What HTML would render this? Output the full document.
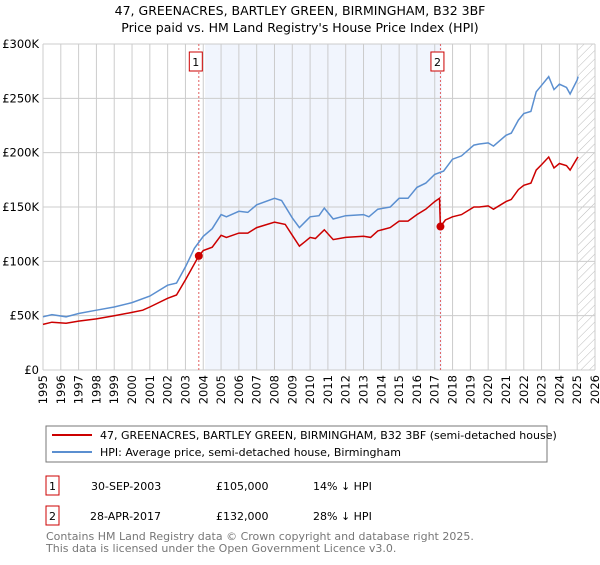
<!DOCTYPE html>
<html><head><meta charset="utf-8"><style>
body{margin:0;background:#fff;font-family:"Liberation Sans","DejaVu Sans",sans-serif;}
svg text{font-family:"DejaVu Sans","Liberation Sans",sans-serif;}
</style></head><body>
<svg id="chart" width="600" height="560" xmlns="http://www.w3.org/2000/svg">
<defs><pattern id="hatch" width="6" height="6" patternUnits="userSpaceOnUse" patternTransform="rotate(45)"><line x1="0" y1="0" x2="0" y2="6" stroke="#bbb" stroke-width="1"/></pattern></defs>
<text x="300" y="15" text-anchor="middle" font-size="12.5" fill="#000">47, GREENACRES, BARTLEY GREEN, BIRMINGHAM, B32 3BF</text>
<text x="300" y="32" text-anchor="middle" font-size="12.5" fill="#000">Price paid vs. HM Land Registry's House Price Index (HPI)</text>
<g id="grid"></g>
<g id="marks"></g>
<rect x="46" y="426" width="501" height="36" fill="#fff" stroke="#777"/>
<line x1="52" y1="435" x2="92" y2="435" stroke="#cc0000" stroke-width="2"/>
<text x="100" y="439" font-size="11">47, GREENACRES, BARTLEY GREEN, BIRMINGHAM, B32 3BF (semi-detached house)</text>
<line x1="52" y1="452" x2="92" y2="452" stroke="#5b8fd0" stroke-width="2"/>
<text x="100" y="456" font-size="11">HPI: Average price, semi-detached house, Birmingham</text>
<g>
<rect x="46" y="476" width="13" height="19" fill="#fff" stroke="#cc0000"/>
<text x="52.5" y="490" text-anchor="middle" font-size="11">1</text>
<text x="91" y="490" font-size="11">30-SEP-2003</text>
<text x="216" y="490" font-size="11">£105,000</text>
<text x="313" y="490" font-size="11">14% ↓ HPI</text></g>
<g>
<rect x="46" y="506" width="13" height="19" fill="#fff" stroke="#cc0000"/>
<text x="52.5" y="520" text-anchor="middle" font-size="11">2</text>
<text x="90" y="520" font-size="11">28-APR-2017</text>
<text x="216" y="520" font-size="11">£132,000</text>
<text x="313" y="520" font-size="11">28% ↓ HPI</text></g>
<text x="46" y="540" font-size="11" fill="#777">Contains HM Land Registry data © Crown copyright and database right 2025.</text>
<text x="46" y="552" font-size="11" fill="#777">This data is licensed under the Open Government Licence v3.0.</text>
</svg>
<script>
const yTicks=[0,50,100,150,200,250,300];
const yTickLabels=["£0","£50K","£100K","£150K","£200K","£250K","£300K"];
const years=[1995,1996,1997,1998,1999,2000,2001,2002,2003,2004,2005,2006,2007,2008,2009,2010,2011,2012,2013,2014,2015,2016,2017,2018,2019,2020,2021,2022,2023,2024,2025,2026];
const hpiT=[1995,1995.5,1996.3,1997,1998,1999,2000,2001,2002,2002.5,2003,2003.5,2004,2004.5,2005,2005.3,2006,2006.5,2007,2008,2008.4,2009,2009.4,2009.7,2010,2010.5,2010.8,2011.3,2012,2013,2013.3,2013.8,2014.5,2015,2015.5,2016,2016.5,2017,2017.5,2018,2018.5,2019.2,2019.5,2020,2020.3,2021,2021.3,2021.7,2022,2022.4,2022.7,2023,2023.4,2023.7,2024,2024.4,2024.6,2025,2025.05];
const hpiV=[49,51,49,52,55,58,62,68,78,80,95,112,123,130,143,141,146,145,152,158,156,140,131,136,141,142,149,139,142,143,141,148,150,158,158,168,172,180,183,194,197,207,208,209,206,216,218,230,236,238,256,262,270,258,263,260,254,267,270];
const priceT=[1995,1995.5,1996.3,1997,1998,1999,2000,2000.6,2001,2002,2002.5,2003,2003.75,2004,2004.5,2005,2005.3,2006,2006.5,2007,2008,2008.6,2009,2009.4,2009.7,2010,2010.3,2010.8,2011.3,2012,2013,2013.4,2013.8,2014.5,2015,2015.5,2016,2016.5,2017,2017.27,2017.32,2017.6,2018,2018.5,2019.2,2019.5,2020,2020.3,2021,2021.3,2021.7,2022,2022.4,2022.7,2023,2023.4,2023.7,2024,2024.4,2024.6,2025,2025.05];
const priceV=[42,44,43,45,47,50,53,55,58,66,69,83,105,110,113,124,122,126,126,131,136,134,124,114,118,122,121,129,120,122,123,122,128,131,137,137,143,148,155,158,132,138,141,143,150,150,151,148,155,157,166,170,172,184,189,196,186,190,188,184,195,196];
const saleT=[2003.75,2017.32];
const saleV=[105,132];
const saleLabels=["1","2"];

const X0=43,X1=595,Y0=370,Y1=44;
const xs=t=>X0+(t-1995)/31*(X1-X0);
const ys=v=>Y0-v/300*(Y0-Y1);
const NS="http://www.w3.org/2000/svg";
function mk(tag,attrs,parent){const e=document.createElementNS(NS,tag);for(const k in attrs)e.setAttribute(k,attrs[k]);parent.appendChild(e);return e;}
const g=document.getElementById('grid'),m=document.getElementById('marks');
let e=mk('rect',{x:xs(2004.1),y:Y1,width:xs(2017.4)-xs(2004.1),height:Y0-Y1,fill:'#eef3fc',opacity:0.8},g);


e=mk('rect',{x:xs(2025.05),y:Y1,width:X1-xs(2025.05),height:Y0-Y1,fill:'url(#hatch)'},g);


years.forEach(y=>{
 e=mk('line',{x1:xs(y),x2:xs(y),y1:Y1,y2:Y0,stroke:'#ccc','stroke-width':1},g);
 
 
 e=mk('text',{x:0,y:0,transform:`translate(${xs(y)+4},${Y0+5}) rotate(-90)`,'text-anchor':'end','font-size':11.5},g);
 e.textContent=y;
 
 
});
yTicks.forEach((v,i)=>{
 e=mk('line',{x1:X0,x2:X1,y1:ys(v),y2:ys(v),stroke:'#ccc','stroke-width':1},g);
 
 
 e=mk('text',{x:X0-4,y:ys(v)+4,'text-anchor':'end','font-size':11.5},g);
 e.textContent=yTickLabels[i];
 
 
});
e=mk('line',{x1:X0,x2:X1,y1:Y0,y2:Y0,stroke:'#ccc'},g);


saleT.forEach((t,i)=>{
 e=mk('line',{x1:xs(t),x2:xs(t),y1:Y1,y2:Y0,stroke:'#e06060','stroke-dasharray':'2,2','stroke-width':1},m);
 
 
 e=mk('rect',{x:xs(t)-6.5-3,y:52,width:13,height:19,fill:'#fff',stroke:'#cc0000'},m);
 
 
 e=mk('text',{x:xs(t)-3,y:66,'text-anchor':'middle','font-size':11},m);
 e.textContent=saleLabels[i];
 
 
});
e=mk('path',{d:hpiT.map((t,i)=>(i?'L':'M')+xs(t).toFixed(1)+','+ys(hpiV[i]).toFixed(1)).join(''),fill:'none',stroke:'#5b8fd0','stroke-width':1.5},m);


e=mk('path',{d:priceT.map((t,i)=>(i?'L':'M')+xs(t).toFixed(1)+','+ys(priceV[i]).toFixed(1)).join(''),fill:'none',stroke:'#cc0000','stroke-width':1.5},m);


saleT.forEach((t,i)=>{
 e=mk('circle',{cx:xs(t),cy:ys(saleV[i]),r:4,fill:'#cc0000'},m);
 
 
});
</script>
</body></html>
